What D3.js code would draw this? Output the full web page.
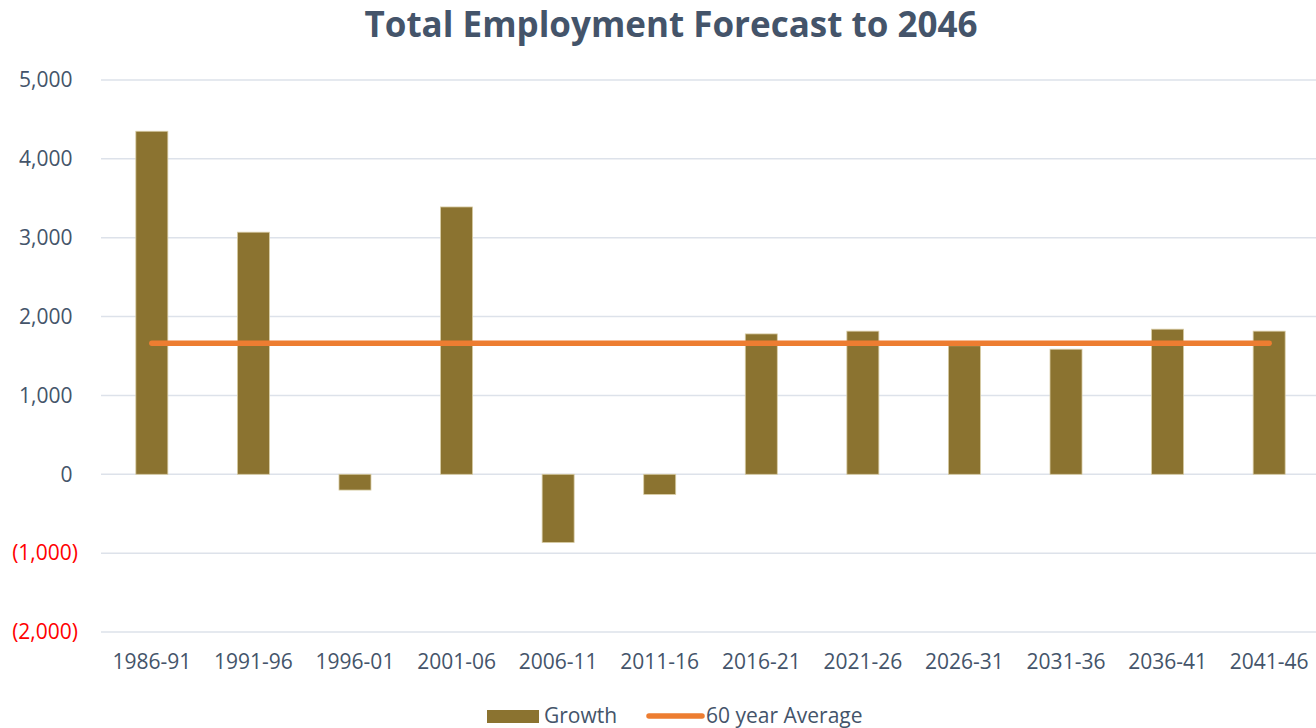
<!DOCTYPE html>
<html>
<head>
<meta charset="utf-8">
<script src="https://cdn.jsdelivr.net/npm/d3@7"></script>
<style>
  html, body { margin: 0; padding: 0; background: #fff; }
  svg { display: block; font-family: "Open Sans", sans-serif; }
</style>
</head>
<body>
<svg id="chart" width="1316" height="728"></svg>
<script>
// Five-year periods and employment growth per period
const periods = ["1986-91", "1991-96", "1996-01", "2001-06", "2006-11", "2011-16",
                 "2016-21", "2021-26", "2026-31", "2031-36", "2036-41", "2041-46"];
const growth = [4350, 3070, -200, 3390, -865, -255, 1780, 1815, 1630, 1586, 1840, 1815];
const average = [1662, 1662, 1662, 1662, 1662, 1662, 1662, 1662, 1662, 1662, 1662, 1662];
const yTicks = [-2000, -1000, 0, 1000, 2000, 3000, 4000, 5000];

const svg = d3.select("#chart");
const fontFamily = "'Open Sans', sans-serif";
const labelSize = 21;
const textColor = "#44546A";
const barColor = "#8B7330";
const lineColor = "#ED7D31";

const x = d3.scaleBand().domain(periods).range([101, 1320]).paddingInner(0.685).paddingOuter(0.343);
const y = d3.scaleLinear().domain([-2000, 5000]).range([632, 80]);

// Title
svg.append("text")
  .attr("x", 671).attr("y", 37)
  .attr("text-anchor", "middle")
  .attr("font-size", 35).attr("font-weight", 700)
  .attr("fill", textColor)
  .text("Total Employment Forecast to 2046");

// Gridlines
svg.append("g").selectAll("line").data(yTicks).join("line")
  .attr("x1", 101).attr("x2", 1316)
  .attr("y1", d => y(d)).attr("y2", d => y(d))
  .attr("stroke", "#DDE2EA").attr("stroke-width", 1.5);

// Y axis labels: negatives in parentheses and red, positives padded by a bracket width
const fmt = d3.format(",");
const yAxis = d3.axisLeft(y).tickValues(yTicks).tickSize(0).tickPadding(0)
  .tickFormat(d => d < 0 ? "(" + fmt(-d) + ")" : fmt(d));
const gy = svg.append("g").attr("transform", "translate(78,0)").call(yAxis);
gy.select(".domain").remove();
gy.selectAll("text")
  .attr("font-size", labelSize)
  .attr("font-family", fontFamily)
  .attr("x", d => d < 0 ? 0 : -5.5)
  .attr("fill", d => d < 0 ? "#FF0000" : textColor);

// X axis labels
const xAxis = d3.axisBottom(x).tickSize(0).tickPadding(0);
const gx = svg.append("g").attr("transform", "translate(0,669)").call(xAxis);
gx.select(".domain").remove();
gx.selectAll("text")
  .attr("dy", 0)
  .attr("font-size", labelSize)
  .attr("font-family", fontFamily)
  .attr("fill", textColor);

// Growth bars
svg.append("g").selectAll("rect").data(periods).join("rect")
  .attr("x", d => x(d))
  .attr("width", x.bandwidth())
  .attr("y", (d, i) => y(Math.max(0, growth[i])))
  .attr("height", (d, i) => Math.abs(y(growth[i]) - y(0)))
  .attr("fill", barColor)
  .attr("stroke", "#D8CCA4").attr("stroke-width", 0.8);

// Average line across category centres
const line = d3.line()
  .x((d, i) => x(periods[i]) + x.bandwidth() / 2)
  .y(d => y(d));
svg.append("path")
  .datum(average)
  .attr("d", line)
  .attr("fill", "none")
  .attr("stroke", lineColor)
  .attr("stroke-width", 5.5)
  .attr("stroke-linecap", "round");

// Legend
const lg = svg.append("g").attr("font-family", fontFamily);
lg.append("rect").attr("x", 487).attr("y", 710).attr("width", 52).attr("height", 13).attr("fill", barColor);
lg.append("text").attr("x", 544).attr("y", 723).attr("font-size", labelSize).attr("fill", textColor).text("Growth");
lg.append("line").attr("x1", 649).attr("x2", 702).attr("y1", 716).attr("y2", 716)
  .attr("stroke", lineColor).attr("stroke-width", 5.5).attr("stroke-linecap", "round");
lg.append("text").attr("x", 706).attr("y", 723).attr("font-size", labelSize).attr("fill", textColor).text("60 year Average");
</script>
</body>
</html>
